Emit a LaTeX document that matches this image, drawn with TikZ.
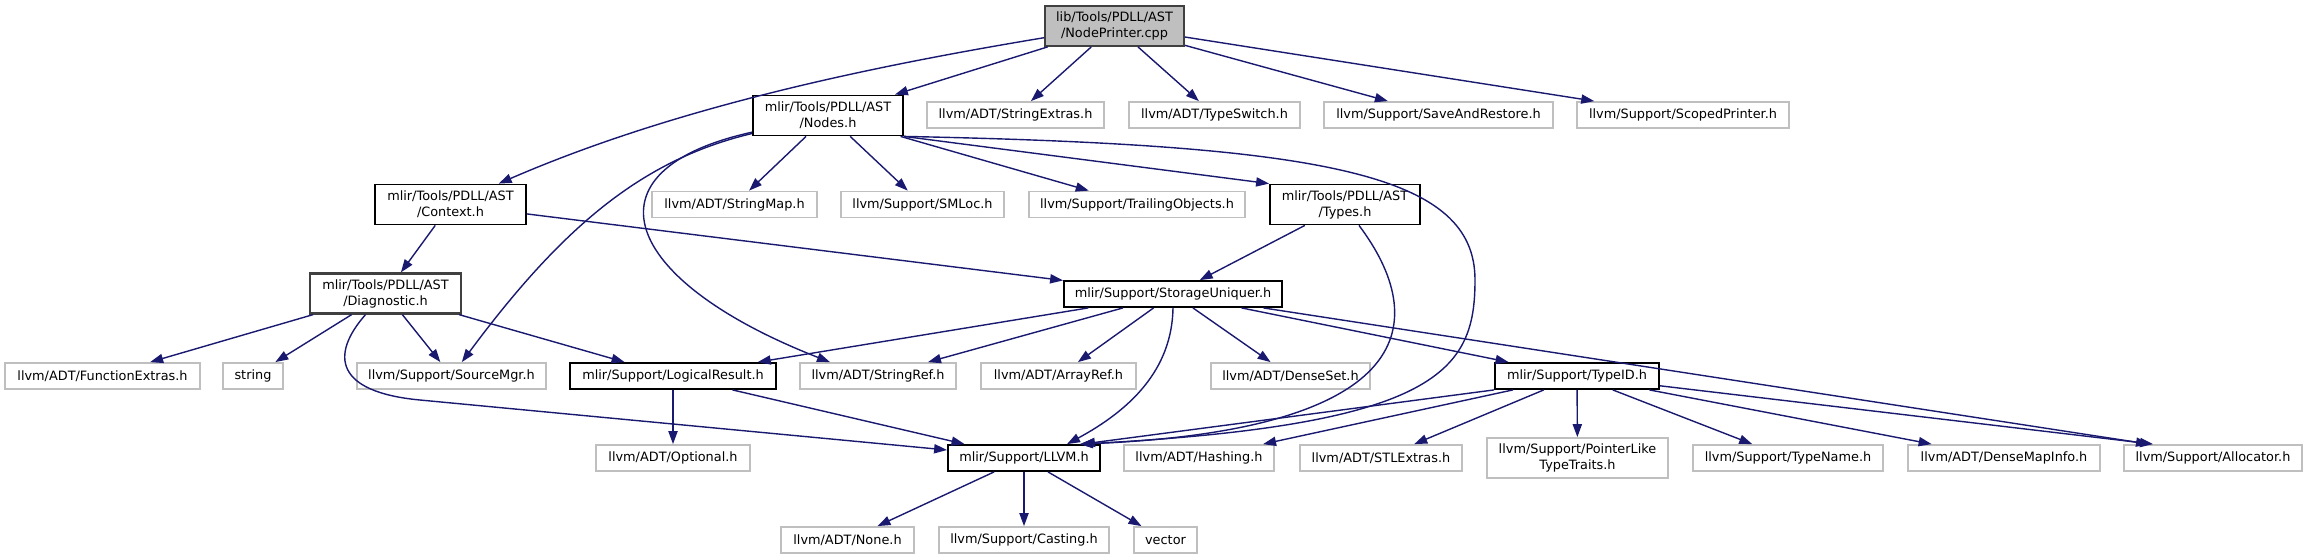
\documentclass[tikz,border=0pt]{standalone}
\usepackage{fontspec}
\setmainfont{DejaVu Sans}
\usepackage{tikz}
\usetikzlibrary{arrows.meta, positioning, calc}

\definecolor{edgeblue}{HTML}{191970}
\definecolor{rootfill}{HTML}{BFBFBF}
\definecolor{rootline}{HTML}{404040}
\definecolor{extline}{HTML}{BFBFBF}

\tikzset{
    file/.style={draw, line width=0.9pt, inner sep=0pt, minimum height=13pt, align=center, fill=white, font=\fontsize{6.43}{8}\selectfont},
    hdr/.style={file, draw=black},
    ext/.style={file, draw=extline},
    root/.style={file, draw=rootline, fill=rootfill},
    twoline/.style={minimum height=20pt},
    dep/.style={-{Triangle[length=6.5pt,width=4.6pt]}, draw=edgeblue, line width=0.7pt}
}

\begin{document}
\begin{tikzpicture}[x=0.5pt, y=-0.5pt]
    \useasboundingbox (0,0) rectangle (2308,559);

    % Top: the source file
    \node[root, twoline, minimum width=69.5pt] (np) at (1114.5,26) {lib/Tools/PDLL/AST\\/NodePrinter.cpp};

    % Row 1
    \node[hdr, twoline, minimum width=75pt] (nodes) at (828,115.5) {mlir/Tools/PDLL/AST\\/Nodes.h};
    \node[ext, minimum width=88.5pt] (strext) at (1015.5,115) {llvm/ADT/StringExtras.h};
    \node[ext, minimum width=85.5pt] (tswitch) at (1214.5,115) {llvm/ADT/TypeSwitch.h};
    \node[ext, minimum width=114.5pt] (saverest) at (1438.5,115) {llvm/Support/SaveAndRestore.h};
    \node[ext, minimum width=106pt] (scoped) at (1683,115) {llvm/Support/ScopedPrinter.h};

    % Row 2
    \node[hdr, twoline, minimum width=75.5pt] (ctx) at (450.5,204.5) {mlir/Tools/PDLL/AST\\/Context.h};
    \node[ext, minimum width=82.5pt] (strmap) at (734.5,204.5) {llvm/ADT/StringMap.h};
    \node[ext, minimum width=81.5pt] (smloc) at (922.5,204.5) {llvm/Support/SMLoc.h};
    \node[ext, minimum width=108pt] (trailing) at (1137,204.5) {llvm/Support/TrailingObjects.h};
    \node[hdr, twoline, minimum width=75pt] (types) at (1345,204.5) {mlir/Tools/PDLL/AST\\/Types.h};

    % Row 3
    \node[file, draw=rootline, line width=1.1pt, twoline, minimum width=75.5pt] (diag) at (385.5,293.5) {mlir/Tools/PDLL/AST\\/Diagnostic.h};
    \node[hdr, minimum width=109pt] (su) at (1173,294) {mlir/Support/StorageUniquer.h};

    % Row 4
    \node[ext, minimum width=97.5pt] (funcext) at (102.5,376) {llvm/ADT/FunctionExtras.h};
    \node[ext, minimum width=30pt] (string) at (253,376) {string};
    \node[ext, minimum width=94.5pt] (srcmgr) at (451.5,376) {llvm/Support/SourceMgr.h};
    \node[hdr, minimum width=103pt] (logres) at (673,376) {mlir/Support/LogicalResult.h};
    \node[ext, minimum width=78pt] (strref) at (878,376) {llvm/ADT/StringRef.h};
    \node[ext, minimum width=77.5pt] (arrref) at (1058.5,376) {llvm/ADT/ArrayRef.h};
    \node[ext, minimum width=79.5pt] (denseset) at (1290.5,376) {llvm/ADT/DenseSet.h};
    \node[hdr, minimum width=82pt] (typeid) at (1577,376) {mlir/Support/TypeID.h};

    % Row 5
    \node[ext, minimum width=77pt] (optional) at (673,458) {llvm/ADT/Optional.h};
    \node[hdr, minimum width=76pt] (llvm) at (1024,458) {mlir/Support/LLVM.h};
    \node[ext, minimum width=75pt] (hashing) at (1199,458) {llvm/ADT/Hashing.h};
    \node[ext, minimum width=81pt] (stlextras) at (1381,458) {llvm/ADT/STLExtras.h};
    \node[ext, twoline, minimum width=90.5pt] (ptrlike) at (1577.5,458) {llvm/Support/PointerLike\\TypeTraits.h};
    \node[ext, minimum width=95pt] (typename) at (1788,458) {llvm/Support/TypeName.h};
    \node[ext, minimum width=96pt] (densemap) at (2004,458) {llvm/ADT/DenseMapInfo.h};
    \node[ext, minimum width=89pt] (alloc) at (2213,458) {llvm/Support/Allocator.h};

    % Row 6
    \node[ext, minimum width=66.5pt] (none) at (847.5,540) {llvm/ADT/None.h};
    \node[ext, minimum width=85pt] (casting) at (1024,540) {llvm/Support/Casting.h};
    \node[ext, minimum width=31.5pt] (vector) at (1165.5,540) {vector};

    % NodePrinter.cpp includes
    \draw[dep] (np) .. controls (880,65) and (680,105) .. (ctx);
    \draw[dep] (np) -- (nodes);
    \draw[dep] (np) -- (strext);
    \draw[dep] (np) -- (tswitch);
    \draw[dep] (np) -- (saverest);
    \draw[dep] (np) -- (scoped);

    % Nodes.h includes
    \draw[dep] (nodes) -- (strmap);
    \draw[dep] (nodes) -- (smloc);
    \draw[dep] (nodes) -- (trailing);
    \draw[dep] (nodes.south east) -- (types.north west);
    \draw[dep] (nodes) .. controls (640,160) and (560,230) .. (srcmgr);
    \draw[dep] (nodes) .. controls (580,170) and (620,280) .. ([xshift=-24pt]strref.north);
    \draw[dep] (nodes.south east) .. controls (1330,145) and (1475,175) .. (1475,280)
        .. controls (1475,370) and (1440,425) .. ([xshift=28pt]llvm.north);

    % Context.h and Types.h includes
    \draw[dep] (ctx) -- (diag);
    \draw[dep] (ctx) -- (su);
    \draw[dep] (types) -- (su);
    \draw[dep] ([xshift=7pt]types.south) .. controls (1430,320) and (1420,430) .. ([xshift=28pt]llvm.north);

    % Diagnostic.h includes
    \draw[dep] (diag) -- (funcext);
    \draw[dep] (diag) -- (string);
    \draw[dep] (diag) -- (srcmgr);
    \draw[dep] (diag) -- (logres);
    \draw[dep] ([xshift=-10pt]diag.south) .. controls (330,355) and (335,392) .. (420,400) -- ([yshift=4pt]llvm.west);

    % StorageUniquer.h includes
    \draw[dep] (su) -- (logres);
    \draw[dep] (su) -- (strref);
    \draw[dep] (su) -- (arrref);
    \draw[dep] (su) -- (denseset);
    \draw[dep] (su) -- (typeid);
    \draw[dep] (su) -- ([xshift=-32pt]alloc.north);
    \draw[dep] (su.south) .. controls (1172,370) and (1130,410) .. ([xshift=21.5pt]llvm.north);

    % LogicalResult.h includes
    \draw[dep] (logres) -- (optional);
    \draw[dep] (logres) -- (llvm);

    % TypeID.h includes
    \draw[dep] (typeid.south west) -- ([xshift=29pt]llvm.north);
    \draw[dep] (typeid) -- (hashing);
    \draw[dep] (typeid) -- (stlextras);
    \draw[dep] (typeid) -- (ptrlike);
    \draw[dep] (typeid) -- (typename);
    \draw[dep] (typeid) -- (densemap);
    \draw[dep] (typeid) -- ([xshift=-30pt]alloc.north);

    % LLVM.h includes
    \draw[dep] (llvm) -- (none);
    \draw[dep] (llvm) -- (casting);
    \draw[dep] (llvm) -- (vector);
\end{tikzpicture}
\end{document}
